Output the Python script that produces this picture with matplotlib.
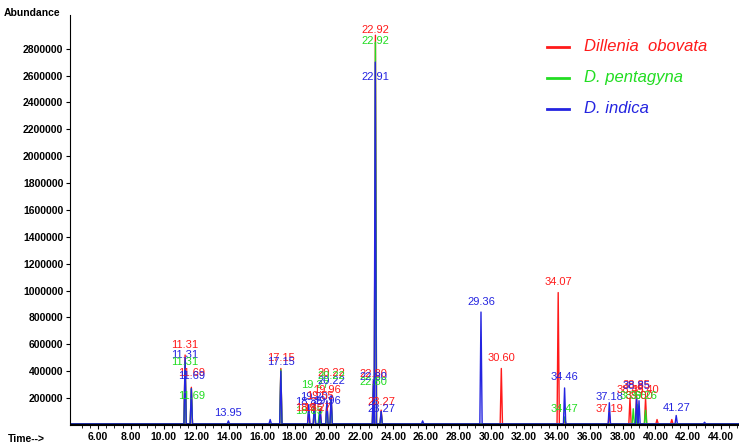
import matplotlib.pyplot as plt
import numpy as np

# peak tables: retention time (min), height (abundance)
red_rt = [11.31, 11.69, 13.95, 17.15, 18.85, 19.20, 19.55, 19.96, 20.22, 22.80, 22.92, 23.27,
          30.60, 34.07, 34.47, 37.19, 38.45, 38.85, 39.40, 40.10, 41.00]
red_h = [520000, 280000, 15000, 420000, 100000, 130000, 110000, 170000, 200000, 330000, 2900000, 110000,
         420000, 985000, 40000, 80000, 200000, 210000, 200000, 40000, 40000]
green_rt = [11.31, 11.69, 17.15, 19.20, 19.50, 19.96, 20.22, 22.80, 22.92, 23.27, 34.47, 38.65, 38.90, 39.40]
green_h = [470000, 270000, 410000, 160000, 100000, 150000, 180000, 300000, 2850000, 90000, 60000, 120000, 150000, 110000]
blue_rt = [11.31, 11.69, 13.95, 16.50, 17.15, 18.85, 19.20, 19.55, 19.96, 20.22, 22.80, 22.91, 23.27,
           25.80, 29.36, 34.46, 37.19, 38.85, 39.00, 41.27, 43.00]
blue_h = [500000, 270000, 30000, 40000, 400000, 150000, 170000, 120000, 180000, 220000, 330000, 2700000, 100000,
          30000, 840000, 275000, 165000, 210000, 180000, 70000, 20000]

# peak labels: retention text, label height, colour
labels = [
    ("11.31", 11.31, 560000, "red"), ("11.31", 11.31, 480000, "blue"), ("11.31", 11.31, 430000, "green"),
    ("11.69", 11.69, 350000, "red"), ("11.69", 11.69, 330000, "blue"), ("11.69", 11.69, 180000, "green"),
    ("13.95", 13.95, 55000, "blue"),
    ("17.15", 17.15, 460000, "red"), ("17.15", 17.15, 430000, "blue"),
    ("18.85", 18.85, 130000, "blue"), ("18.85", 18.85, 70000, "green"), ("18.85", 18.85, 90000, "red"),
    ("19.20", 19.20, 170000, "blue"), ("19.27", 19.25, 260000, "green"), ("19.27", 19.35, 90000, "red"),
    ("19.55", 19.55, 180000, "red"), ("19.96", 19.96, 220000, "red"), ("19.96", 19.96, 140000, "blue"),
    ("20.22", 20.22, 350000, "red"), ("20.22", 20.22, 290000, "blue"), ("20.22", 20.22, 330000, "green"),
    ("22.80", 22.80, 340000, "red"), ("22.80", 22.80, 320000, "blue"), ("22.80", 22.80, 280000, "green"),
    ("22.92", 22.92, 2900000, "red"), ("22.92", 22.92, 2820000, "green"), ("22.91", 22.91, 2550000, "blue"),
    ("23.27", 23.27, 130000, "red"), ("23.27", 23.27, 80000, "blue"),
    ("29.36", 29.36, 880000, "blue"), ("30.60", 30.60, 460000, "red"),
    ("34.07", 34.07, 1030000, "red"), ("34.46", 34.46, 320000, "blue"), ("34.47", 34.47, 80000, "green"),
    ("37.18", 37.18, 170000, "blue"), ("37.19", 37.19, 80000, "red"),
    ("38.45", 38.45, 220000, "red"), ("38.65", 38.65, 180000, "green"),
    ("38.85", 38.85, 260000, "red"), ("38.85", 38.85, 250000, "blue"), ("39.00", 39.05, 180000, "red"),
    ("39.40", 39.40, 220000, "red"), ("39.26", 39.25, 180000, "green"), ("41.27", 41.27, 90000, "blue"),
]

colors = {"red": "#ff1a1a", "green": "#22dd22", "blue": "#2424e0"}


def trace(rts, hs, width=0.07):
    xs, ys = [4.3], [8000]
    for rt, h in sorted(zip(rts, hs)):
        xs += [rt - width, rt, rt + width]
        ys += [8000, h, 8000]
    xs.append(45.1)
    ys.append(8000)
    return xs, ys


fig = plt.figure(figsize=(7.39, 4.44), dpi=100)
ax = fig.add_axes([0.095, 0.043, 0.905, 0.923])

for rts, hs, c in [(red_rt, red_h, "red"), (green_rt, green_h, "green"), (blue_rt, blue_h, "blue")]:
    xs, ys = trace(rts, hs)
    ax.plot(xs, ys, color=colors[c], lw=1)
ax.plot([4.3, 45.1], [8000, 8000], color="black", lw=1)

for txt, x, y, c in labels:
    ax.text(x, y, txt, color=colors[c], fontsize=8, ha="center", va="bottom", family="Liberation Sans")

ax.set_xlim(4.3, 45.1)
ax.set_ylim(0, 3050000)
ax.set_xticks(np.arange(6, 45, 2))
ax.set_xticklabels([f"{v:.2f}" for v in np.arange(6, 45, 2)])
ax.set_xticks(np.arange(5, 45.1, 0.5), minor=True)
yt = np.arange(200000, 2900000, 200000)
ax.set_yticks(yt)
ax.set_yticklabels([str(v) for v in yt])
for lab in ax.get_xticklabels() + ax.get_yticklabels():
    lab.set_fontsize(7.5)
    lab.set_fontweight("bold")
    lab.set_family("Liberation Sans")
ax.tick_params(axis="both", length=3, pad=2)
ax.tick_params(axis="x", which="minor", length=2)
ax.spines["top"].set_visible(False)
ax.spines["right"].set_visible(False)

fig.text(0.005, 0.965, "Abundance", fontsize=7.5, fontweight="bold", family="Liberation Sans")
fig.text(0.01, 0.005, "Time-->", fontsize=7.5, fontweight="bold", family="Liberation Sans")

leg = [("Dillenia  obovata", "red"), ("D. pentagyna", "green"), ("D. indica", "blue")]
for i, (name, c) in enumerate(leg):
    yy = 0.895 - i * 0.07
    fig.lines.append(plt.Line2D([0.74, 0.77], [yy, yy], color=colors[c], lw=2, transform=fig.transFigure))
    fig.text(0.79, yy, name, color=colors[c], fontsize=12, style="italic", va="center", family="Liberation Sans")

fig.savefig("out.png", dpi=100)
